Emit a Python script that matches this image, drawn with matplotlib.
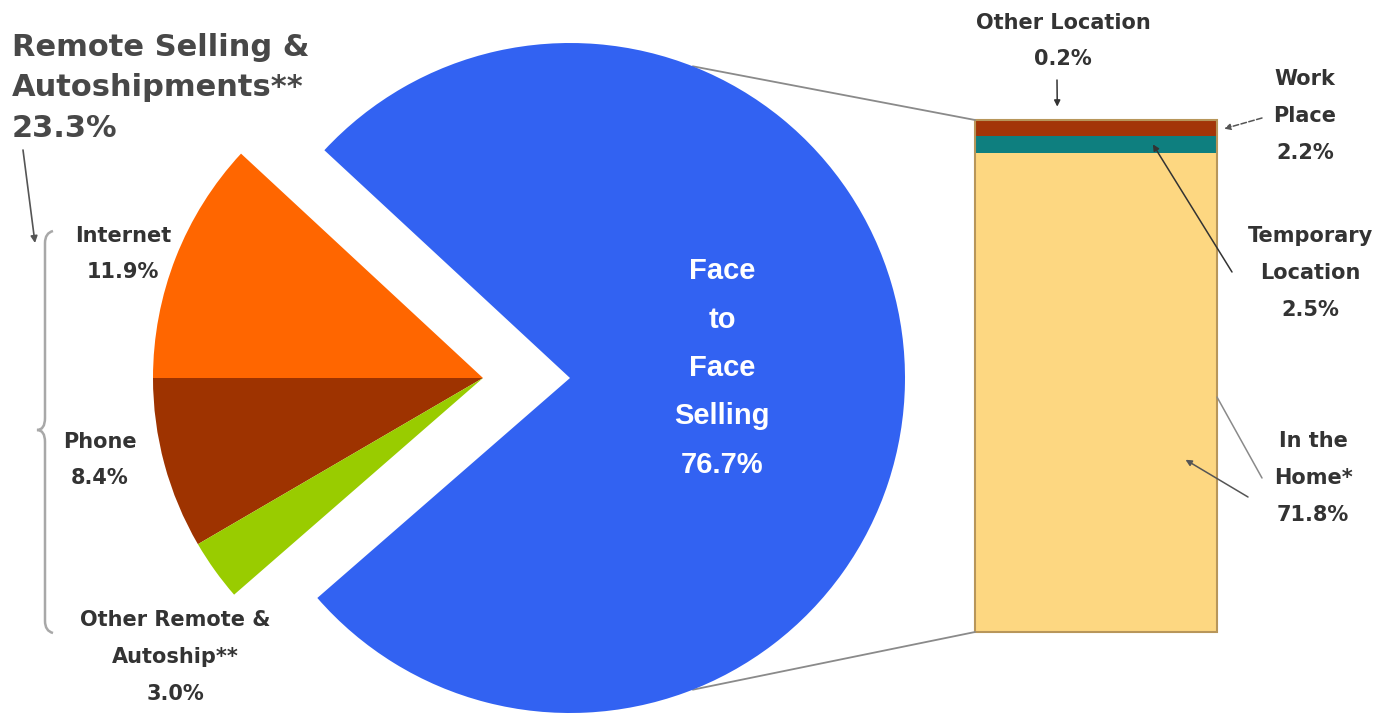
import matplotlib
matplotlib.use("Agg")
import matplotlib.pyplot as plt
from matplotlib.patches import ConnectionPatch, PathPatch, Rectangle
from matplotlib.path import Path
import numpy as np

# Sales by channel (share of total, %)
channel_names = ["Internet", "Phone", "Other Remote &\nAutoship**", "Face\nto\nFace\nSelling"]
channel_shares = [11.9, 8.4, 3.0, 76.7]
channel_colors = ["#FF6600", "#9E3300", "#99CC00", "#3262F2"]

# Face-to-face selling broken down by location (share of total, %)
location_names = ["In the\nHome*", "Temporary\nLocation", "Work\nPlace", "Other Location"]
location_shares = [71.8, 2.5, 2.2, 0.2]
location_colors = ["#FDD781", "#0E7F7F", "#A33508", "#E59B4E"]

remote_group = "Remote Selling &\nAutoshipments**"
remote_share = 23.3

W, H = 1391, 718
fig = plt.figure(figsize=(W / 100, H / 100), dpi=100)
ax = fig.add_axes([0, 0, 1, 1])

label_font = dict(family="DejaVu Sans", fontweight="bold", color="#333333", fontsize=15,
                  linespacing=2.05)

# pie: face-to-face wedge in place, remote wedges pulled out to the left
start = 180 - channel_shares[0] * 3.6
main_center, main_r = (570, 340), 335
remote_center, remote_r = (483, 340), 330

w_main, _ = ax.pie(channel_shares, colors=channel_colors, startangle=start,
                   counterclock=True, center=main_center, radius=main_r,
                   frame=True, wedgeprops=dict(linewidth=0))
for w in w_main[:3]:
    w.set_visible(False)
w_remote, _ = ax.pie(channel_shares, colors=channel_colors, startangle=start,
                     counterclock=True, center=remote_center, radius=remote_r,
                     frame=True, wedgeprops=dict(linewidth=0))
w_remote[3].set_visible(False)

ax.set_xlim(0, W)
ax.set_ylim(0, H)
ax.set_aspect("equal")
ax.axis("off")

# stacked location bar (kept underneath the annotation layer)
bx = fig.add_axes([975 / W, (H - 632) / H, 242 / W, 512 / H])
bx.set_zorder(0)
ax.set_zorder(1)
total = sum(location_shares)
bottoms = np.concatenate([[0], np.cumsum(location_shares)[:-1]])
bx.bar(np.zeros(len(location_shares)), location_shares, width=1, bottom=bottoms,
       color=location_colors, edgecolor="none")
bx.add_patch(Rectangle((-0.5, 0), 1, total, fill=False, edgecolor="#B8965A",
                       lw=1.5, clip_on=False))
bx.set_xlim(-0.5, 0.5)
bx.set_ylim(0, total)
bx.axis("off")

# connector lines from pie to bar
for ang, yb in [(68.5, total), (-68.5, 0)]:
    t = np.deg2rad(ang)
    p = (main_center[0] + main_r * np.cos(t), main_center[1] + main_r * np.sin(t))
    con = ConnectionPatch(xyA=p, coordsA=ax.transData, xyB=(-0.5, yb),
                          coordsB=bx.transData, color="#8A8A8A", lw=1.3)
    fig.add_artist(con)

# pie labels
ax.text(722, 350, f"{channel_names[3]}\n{channel_shares[3]}%", ha="center", va="center",
        family="Liberation Sans", fontweight="bold", fontsize=21, color="white",
        linespacing=1.93)
ax.text(123, 464, f"{channel_names[0]}\n{channel_shares[0]}%", ha="center", va="center",
        **label_font)
ax.text(100, 258, f"{channel_names[1]}\n{channel_shares[1]}%", ha="center", va="center",
        **label_font)
ax.text(175, 61, f"{channel_names[2]}\n{channel_shares[2]}%", ha="center", va="center",
        **label_font)

ax.text(12, H - 33, f"{remote_group}\n{remote_share}%", ha="left", va="top",
        family="DejaVu Sans", fontweight="bold", fontsize=22, color="#484848",
        linespacing=1.5)

# arrow and brace grouping the remote channels
ax.annotate("", xy=(35, 475), xytext=(23, 568),
            arrowprops=dict(arrowstyle="-|>", color="#555555", lw=1.2, mutation_scale=10,
                            shrinkA=0, shrinkB=0))
brace = Path([(53, 487), (45, 485), (45, 475), (45, 300), (45, 288), (37, 288),
              (45, 288), (45, 276), (45, 97), (45, 87), (53, 85)],
             [Path.MOVETO, Path.CURVE3, Path.CURVE3, Path.LINETO, Path.CURVE3, Path.CURVE3,
              Path.CURVE3, Path.CURVE3, Path.LINETO, Path.CURVE3, Path.CURVE3])
ax.add_patch(PathPatch(brace, fill=False, edgecolor="#A8A8A8", lw=1.8))

# bar labels
tops = np.cumsum(location_shares)
ax.text(1063, 677, f"{location_names[3]}\n{location_shares[3]}%", ha="center", va="center",
        **label_font)
ax.text(1305, 602, f"{location_names[2]}\n{location_shares[2]}%", ha="center", va="center",
        **label_font)
ax.text(1310, 445, f"{location_names[1]}\n{location_shares[1]}%", ha="center", va="center",
        **label_font)
ax.text(1313, 240, f"{location_names[0]}\n{location_shares[0]}%", ha="center", va="center",
        **label_font)

arrow = dict(arrowstyle="-|>", color="#333333", lw=1.1, mutation_scale=9, shrinkA=0, shrinkB=0)
pointer = dict(xycoords=bx.transData, textcoords=ax.transData, annotation_clip=False)
ax.annotate("", xy=(-0.16, total + 2.0), xytext=(1057, 638), arrowprops=arrow, **pointer)
ax.annotate("", xy=(0.53, tops[1] + location_shares[2] / 2), xytext=(1262, 600),
            arrowprops=dict(arrow, color="#555555", linestyle="--"), **pointer)
ax.annotate("", xy=(0.235, tops[0] + location_shares[1] / 2), xytext=(1232, 446),
            arrowprops=arrow, **pointer)
ax.annotate("", xy=(0.37, 25.8), xytext=(1248, 221),
            arrowprops=dict(arrow, color="#555555"), **pointer)
ax.annotate("", xy=(0.5, 35.2), xytext=(1262, 240),
            arrowprops=dict(arrowstyle="-", color="#8A8A8A", lw=1.1, shrinkA=0, shrinkB=0),
            **pointer)

fig.savefig("out.png", dpi=100, facecolor="white")
